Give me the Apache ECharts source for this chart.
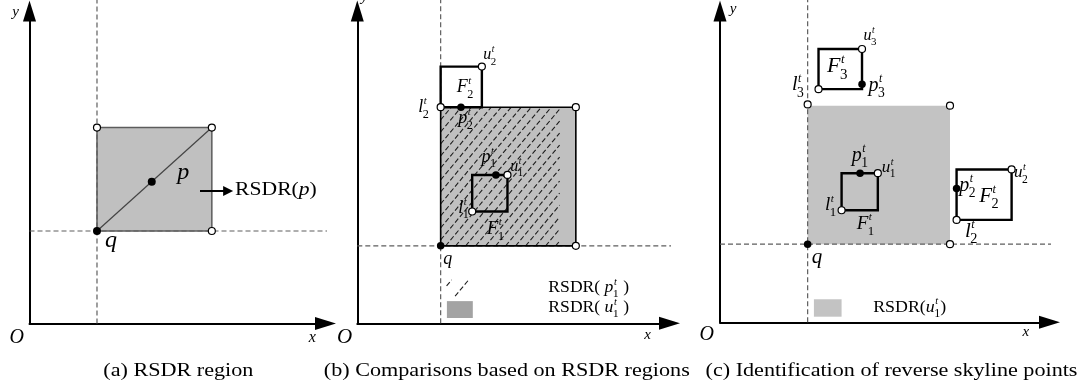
<!DOCTYPE html>
<html>
<head>
<meta charset="utf-8">
<script src="https://cdn.jsdelivr.net/npm/echarts@6/dist/echarts.min.js"></script>
<style>
  html, body { margin: 0; padding: 0; background: #fff; }
  #chart { width: 1090px; height: 390px; }
</style>
</head>
<body>
<div id="chart"></div>
<script>
// ---------- data (axis units: 0–100 along each drawn axis) ----------

// (a) RSDR region
const aQuery   = [22.8, 29.6];
const aPoint   = [41.3, 45.4];
const aRegion  = [22.8, 29.6, 61.6, 62.7];               // [x0, y0, x1, y1]
const aCorners = [[22.8, 62.7], [61.6, 62.7], [61.6, 29.6]];
const aArrow   = [[57.6, 42.4], [67.1, 42.4]];

// (b) Comparisons based on RSDR regions
const bQuery    = [26.7, 24.8];
const bRegionU1 = [26.7, 24.8, 70.0, 69.2];
const bRegionP1 = [26.7, 24.8, 64.8, 69.2];
const bBoxes    = [[36.8, 35.8, 48.1, 47.5], [26.7, 69.2, 39.9, 82.2]];   // F1, F2
const bFilled   = { q: [26.7, 24.8], p1: [44.4, 47.5], p2: [33.2, 69.2] };
const bOpen     = { l1: [36.8, 35.8], u1: [48.1, 47.5], l2: [26.7, 69.2], u2: [39.9, 82.2],
                    ur: [70.0, 69.2], lr: [70.0, 24.8] };

// (c) Identification of reverse skyline points
const cQuery    = [26.6, 25.1];
const cRegionU1 = [26.6, 25.1, 69.8, 69.6];
const cBoxes    = [[36.9, 36.0, 47.9, 47.9], [71.8, 32.9, 88.5, 49.1], [29.9, 74.9, 43.1, 87.8]]; // F1, F2, F3
const cFilled   = { q: [26.6, 25.1], p1: [42.5, 47.9], p2: [71.8, 43.0], p3: [43.1, 76.5] };
const cOpen     = { l1: [36.9, 36.0], u1: [47.9, 47.9], l2: [71.8, 32.9], u2: [88.5, 49.1],
                    l3: [29.9, 74.9], u3: [43.1, 87.8], ul: [26.6, 70.0], ur: [69.8, 69.6], lr: [69.8, 25.1] };

// text content
const captions = ['(a) RSDR region', '(b) Comparisons based on RSDR regions', '(c) Identification of reverse skyline points'];
const axisLabels = [{ id: 'O', base: 'O' }, { id: 'x', base: 'x' }, { id: 'y', base: 'y' }];
const aLabels = [
  { id: 'p', base: 'p' }, { id: 'q', base: 'q' },
  { id: 'rsdr', pre: 'RSDR(', base: 'p', post: ')' }
];
const bLabels = [
  { id: 'u2', base: 'u', sup: 't', sub: '2' }, { id: 'F2', base: 'F', sup: 't', sub: '2' },
  { id: 'l2', base: 'l', sup: 't', sub: '2' }, { id: 'p2', base: 'p', sup: 't', sub: '2' },
  { id: 'p1', base: 'p', sup: 't', sub: '1' }, { id: 'u1', base: 'u', sup: 't', sub: '1' },
  { id: 'l1', base: 'l', sup: 't', sub: '1' }, { id: 'F1', base: 'F', sup: 't', sub: '1' },
  { id: 'q', base: 'q' },
  { id: 'legP', pre: 'RSDR( ', base: 'p', sup: 't', sub: '1', post: ' )' },
  { id: 'legU', pre: 'RSDR( ', base: 'u', sup: 't', sub: '1', post: ' )' }
];
const cLabels = [
  { id: 'u3', base: 'u', sup: 't', sub: '3' }, { id: 'F3', base: 'F', sup: 't', sub: '3' },
  { id: 'p3', base: 'p', sup: 't', sub: '3' }, { id: 'l3', base: 'l', sup: 't', sub: '3' },
  { id: 'p1', base: 'p', sup: 't', sub: '1' }, { id: 'u1', base: 'u', sup: 't', sub: '1' },
  { id: 'l1', base: 'l', sup: 't', sub: '1' }, { id: 'F1', base: 'F', sup: 't', sub: '1' },
  { id: 'u2', base: 'u', sup: 't', sub: '2' }, { id: 'p2', base: 'p', sup: 't', sub: '2' },
  { id: 'F2', base: 'F', sup: 't', sub: '2' }, { id: 'l2', base: 'l', sup: 't', sub: '2' },
  { id: 'q', base: 'q' },
  { id: 'legU', pre: 'RSDR(', base: 'u', sup: 't', sub: '1', post: ')' }
];

// ---------- layout ----------
const GRIDS = [
  { left: 29.5,  top: 11, width: 296,   height: 312.5 },
  { left: 357.3, top: 11, width: 312.2, height: 312.3 },
  { left: 720,   top: 11, width: 329.5, height: 311.3 }
];
const GUIDE_TOP = 103.5;
const GUIDE_RIGHT = [102.5, 102.8, 102.7];
const CAPTION_POS = [[178.3, 370.8], [506.8, 370.8], [891.5, 370.8]];

const boxCenter = b => [(b[0] + b[2]) / 2, (b[1] + b[3]) / 2];
const boxBottom = b => [(b[0] + b[2]) / 2, b[1]];

// legend swatches (axis units)
const LEGEND_B = { hatch: [28.6, 8.7, 36.6, 13.9], solid: [28.7, 1.7, 37.0, 7.1] };
const LEGEND_C = { solid: [28.5, 1.8, 36.9, 7.4] };

// label placement: anchor (axis units) + pixel offset of the text's left edge / middle
const LAYOUT = [
  {
    O: { at: [0, 0], dx: -12.8, dy: 14.5, size: 20, align: 'center' },
    x: { at: [100, 0], dx: -13.2, dy: 13.8, size: 16, align: 'center' },
    y: { at: [0, 100], dx: -14, dy: 1.4, size: 15, align: 'center' },
    p: { at: aPoint, dx: 25.6, dy: -9.3, size: 24 },
    q: { at: aQuery, dx: 8, dy: 9.5, size: 24 },
    rsdr: { at: aArrow[1], dx: 7, dy: -1, size: 18, sx: 1.2 }
  },
  {
    O: { at: [0, 0], dx: -12.8, dy: 13.7, size: 21, align: 'center' },
    x: { at: [100, 0], dx: -22, dy: 11.7, size: 15, align: 'center' },
    y: { at: [0, 100], dx: 7, dy: -14, size: 15, align: 'center' },
    u2: { at: bOpen.u2, dx: 1.3, dy: -11.3, size: 16 },
    F2: { at: boxCenter(bBoxes[1]), dx: -4.6, dy: 0.5, size: 18 },
    l2: { at: bOpen.l2, dx: -22.4, dy: 0, size: 18 },
    p2: { at: bFilled.p2, dx: -2.7, dy: 11.5, size: 18 },
    p1: { at: bFilled.p1, dx: -14.3, dy: -18, size: 18 },
    u1: { at: bOpen.u1, dx: 2.7, dy: -8.6, size: 16 },
    l1: { at: bOpen.l1, dx: -14, dy: -3.7, size: 18 },
    F1: { at: boxBottom(bBoxes[0]), dx: -3.2, dy: 17.2, size: 19 },
    q: { at: bQuery, dx: 2.6, dy: 13, size: 18 },
    legP: { at: [61.2, 11.4], dx: 0, dy: 0, size: 16, sx: 1.1 },
    legU: { at: [61.2, 5.1], dx: 0, dy: 0, size: 16, sx: 1.1 }
  },
  {
    O: { at: [0, 0], dx: -13.3, dy: 12.7, size: 20, align: 'center' },
    x: { at: [100, 0], dx: -23.7, dy: 9.4, size: 15, align: 'center' },
    y: { at: [0, 100], dx: 13, dy: -1.5, size: 15, align: 'center' },
    u3: { at: cOpen.u3, dx: 1.6, dy: -13.6, size: 16 },
    F3: { at: boxCenter(cBoxes[2]), dx: -13.3, dy: -2.5, size: 22 },
    p3: { at: cFilled.p3, dx: 6.6, dy: 1.4, size: 20 },
    l3: { at: cOpen.l3, dx: -26.6, dy: -4, size: 20 },
    p1: { at: cFilled.p1, dx: -8.3, dy: -17.6, size: 20 },
    u1: { at: cOpen.u1, dx: 4, dy: -5.6, size: 17 },
    l1: { at: cOpen.l1, dx: -16.7, dy: -5.3, size: 19 },
    F1: { at: boxBottom(cBoxes[0]), dx: -3, dy: 13.5, size: 19 },
    u2: { at: cOpen.u2, dx: 2.3, dy: 3.4, size: 17 },
    p2: { at: cFilled.p2, dx: 2.6, dy: -2.6, size: 20 },
    F2: { at: boxCenter(cBoxes[1]), dx: -4.9, dy: 1.6, size: 21 },
    l2: { at: cOpen.l2, dx: 8.3, dy: 11.4, size: 21 },
    q: { at: cQuery, dx: 4, dy: 13, size: 21 },
    legU: { at: [46.5, 4.8], dx: 0, dy: 0, size: 17, sx: 1.05 }
  }
];

// ---------- text helpers ----------
const SERIF = "'Liberation Serif', 'Times New Roman', Times, serif";
const measureCtx = document.createElement('canvas').getContext('2d');
function fontOf(size, italic) { return (italic ? 'italic ' : '') + size.toFixed(1) + 'px ' + SERIF; }
function widthOf(str, font) { measureCtx.font = font; return measureCtx.measureText(str).width; }
function textEl(text, font, x, y) {
  return {
    type: 'text', x: x, y: y,
    style: { text: text, font: font, fill: '#000', align: 'left', verticalAlign: 'middle',
             textAlign: 'left', textVerticalAlign: 'middle' }
  };
}
// italic symbol with a stacked superscript / subscript, optional upright prefix and suffix
function composeText(spec, size) {
  const kids = [];
  let x = 0;
  if (spec.pre) { const f = fontOf(size, false); kids.push(textEl(spec.pre, f, x, 0)); x += widthOf(spec.pre, f); }
  const fb = fontOf(size, true);
  kids.push(textEl(spec.base, fb, x, 0));
  x += widthOf(spec.base, fb);
  let extra = 0;
  if (spec.sup) { const f = fontOf(size * 0.58, true); kids.push(textEl(spec.sup, f, x + 0.5, -0.33 * size)); extra = Math.max(extra, widthOf(spec.sup, f) + 0.5); }
  if (spec.sub) { const f = fontOf(size * 0.68, false); kids.push(textEl(spec.sub, f, x - 0.5, 0.4 * size)); extra = Math.max(extra, widthOf(spec.sub, f) - 0.5); }
  x += extra;
  if (spec.post) { const f = fontOf(size, false); kids.push(textEl(spec.post, f, x, 0)); x += widthOf(spec.post, f); }
  return { kids: kids, width: x };
}

// ---------- series builders ----------
function rectSeries(g, boxes, style, z) {
  return {
    type: 'custom', coordinateSystem: 'cartesian2d', xAxisIndex: g, yAxisIndex: g,
    silent: true, animation: false, z: z, data: boxes,
    renderItem: function (params, api) {
      const p0 = api.coord([api.value(0), api.value(1)]);
      const p1 = api.coord([api.value(2), api.value(3)]);
      return {
        type: 'rect',
        shape: { x: p0[0], y: p1[1], width: p1[0] - p0[0], height: p0[1] - p1[1] },
        style: Object.assign({ lineJoin: 'miter' }, style)
      };
    }
  };
}

const HATCH_SLOPE = 1.2;
function hatchSeries(g, regions, gap, z) {
  return {
    type: 'custom', coordinateSystem: 'cartesian2d', xAxisIndex: g, yAxisIndex: g,
    silent: true, animation: false, z: z, data: regions,
    renderItem: function (params, api) {
      const a = api.coord([api.value(0), api.value(1)]);
      const b = api.coord([api.value(2), api.value(3)]);
      const left = a[0], right = b[0], top = b[1], bottom = a[1];
      const run = (bottom - top) / HATCH_SLOPE;
      const kids = [];
      for (let xb = left - Math.ceil(run / gap) * gap + gap * 0.5; xb < right; xb += gap) {
        const t0 = Math.max(left - xb, 0), t1 = Math.min(right - xb, run);
        if (t1 - t0 < 1) continue;
        kids.push({
          type: 'line',
          shape: { x1: xb + t0, y1: bottom - HATCH_SLOPE * t0, x2: xb + t1, y2: bottom - HATCH_SLOPE * t1 },
          style: { stroke: '#1e1e1e', lineWidth: 1.1, lineDash: [5, 2.5] }
        });
      }
      return { type: 'group', children: kids };
    }
  };
}

function guideSeries(g, pts) {
  return {
    type: 'line', xAxisIndex: g, yAxisIndex: g, data: pts, symbol: 'none', showSymbol: false,
    clip: false, silent: true, animation: false, z: 3,
    lineStyle: { color: '#5e5e5e', width: 1.2, type: [5, 3] }
  };
}

function dotSeries(g, pts, filled, size) {
  return {
    type: 'scatter', xAxisIndex: g, yAxisIndex: g, data: Object.values(pts),
    symbol: 'circle', symbolSize: size, silent: true, animation: false, clip: false, z: 6,
    itemStyle: filled ? { color: '#000', opacity: 1 }
                      : { color: '#fff', borderColor: '#000', borderWidth: 1.2, opacity: 1 }
  };
}

function labelSeries(g, labels, layout) {
  return {
    type: 'custom', coordinateSystem: 'cartesian2d', xAxisIndex: g, yAxisIndex: g,
    silent: true, animation: false, z: 8,
    data: labels.map(l => layout[l.id].at),
    renderItem: function (params, api) {
      const spec = labels[params.dataIndex];
      const lay = layout[spec.id];
      const pt = api.coord([api.value(0), api.value(1)]);
      const c = composeText(spec, lay.size);
      const shift = lay.align === 'center' ? -c.width / 2 : 0;
      c.kids.forEach(k => { k.x += shift; });
      return { type: 'group', x: pt[0] + lay.dx, y: pt[1] + lay.dy, scaleX: lay.sx || 1, children: c.kids };
    }
  };
}

function guides(g, q) {
  return [
    guideSeries(g, [[q[0], 0], [q[0], GUIDE_TOP]]),
    guideSeries(g, [[0, q[1]], [GUIDE_RIGHT[g], q[1]]])
  ];
}

// ---------- axes ----------
const axisLineStyle = {
  show: true, onZero: true, symbol: ['none', 'triangle'], symbolSize: [13, 21],
  lineStyle: { color: '#000', width: 2 }
};
function valueAxis(g) {
  return {
    type: 'value', gridIndex: g, min: 0, max: 100,
    axisLine: axisLineStyle, axisTick: { show: false }, axisLabel: { show: false },
    splitLine: { show: false }
  };
}

const series = [
  // (a)
  rectSeries(0, [aRegion], { fill: '#c0c0c0', stroke: '#5c5c5c', lineWidth: 1.5 }, 1),
  ...guides(0, aQuery),
  {
    type: 'line', xAxisIndex: 0, yAxisIndex: 0, data: [aQuery, [aRegion[2], aRegion[3]]],
    symbol: 'none', silent: true, animation: false, z: 4,
    lineStyle: { color: '#444', width: 1.2 },
    markLine: {
      silent: true, animation: false, symbol: ['none', 'triangle'], symbolSize: 10,
      label: { show: false }, lineStyle: { color: '#000', width: 2, type: 'solid' },
      data: [[{ coord: aArrow[0] }, { coord: aArrow[1] }]]
    }
  },
  dotSeries(0, { q: aQuery, p: aPoint }, true, 8),
  dotSeries(0, aCorners, false, 7),
  labelSeries(0, axisLabels.concat(aLabels), LAYOUT[0]),

  // (b)
  rectSeries(1, [bRegionU1], { fill: '#c0c0c0', stroke: 'none' }, 1),
  hatchSeries(1, [bRegionP1], 10, 2),
  rectSeries(1, [bRegionU1], { fill: 'none', stroke: '#000', lineWidth: 1.6 }, 4),
  ...guides(1, bQuery),
  rectSeries(1, bBoxes, { fill: 'none', stroke: '#000', lineWidth: 2.4 }, 5),
  hatchSeries(1, [LEGEND_B.hatch], 17, 2),
  rectSeries(1, [LEGEND_B.solid], { fill: '#a3a3a3', stroke: 'none' }, 1),
  dotSeries(1, bFilled, true, 7.5),
  dotSeries(1, bOpen, false, 7),
  labelSeries(1, axisLabels.concat(bLabels), LAYOUT[1]),

  // (c)
  rectSeries(2, [cRegionU1], { fill: '#c3c3c3', stroke: 'none' }, 1),
  ...guides(2, cQuery),
  rectSeries(2, cBoxes, { fill: 'none', stroke: '#000', lineWidth: 2.4 }, 5),
  rectSeries(2, [LEGEND_C.solid], { fill: '#c3c3c3', stroke: 'none' }, 1),
  dotSeries(2, cFilled, true, 7.5),
  dotSeries(2, cOpen, false, 7),
  labelSeries(2, axisLabels.concat(cLabels), LAYOUT[2])
];

const chart = echarts.init(document.getElementById('chart'), null, { renderer: 'canvas' });
chart.setOption({
  backgroundColor: '#fff',
  animation: false,
  grid: GRIDS.map(g => Object.assign({ containLabel: false, outerBoundsMode: 'none' }, g)),
  xAxis: GRIDS.map((g, i) => valueAxis(i)),
  yAxis: GRIDS.map((g, i) => valueAxis(i)),
  series: series,
  graphic: captions.map((text, i) => ({
    type: 'text', x: CAPTION_POS[i][0], y: CAPTION_POS[i][1], scaleX: 1.23, silent: true,
    style: { text: text, font: '18px ' + SERIF, fill: '#000', align: 'center', verticalAlign: 'middle',
             textAlign: 'center', textVerticalAlign: 'middle' }
  }))
});
</script>
</body>
</html>
